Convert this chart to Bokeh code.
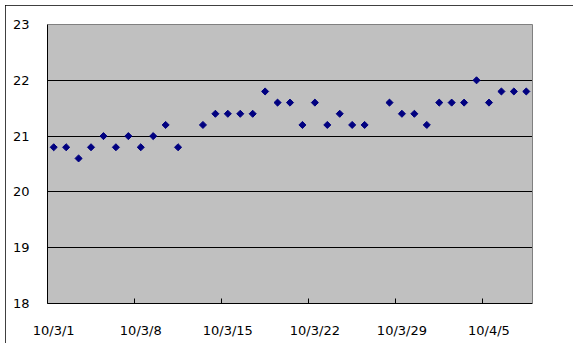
import pandas as pd
from bokeh.plotting import figure
from bokeh.models import FixedTicker, ColumnDataSource, Range1d, LinearAxis
from bokeh.embed import file_html
from bokeh.resources import INLINE

# --- data ---
dates = [
    "2010-03-01", "2010-03-02", "2010-03-03", "2010-03-04", "2010-03-05",
    "2010-03-06", "2010-03-07", "2010-03-08", "2010-03-09", "2010-03-10",
    "2010-03-11", "2010-03-13", "2010-03-14", "2010-03-15", "2010-03-16",
    "2010-03-17", "2010-03-18", "2010-03-19", "2010-03-20", "2010-03-21",
    "2010-03-22", "2010-03-23", "2010-03-24", "2010-03-25", "2010-03-26",
    "2010-03-28", "2010-03-29", "2010-03-30", "2010-03-31", "2010-04-01",
    "2010-04-02", "2010-04-03", "2010-04-04", "2010-04-05", "2010-04-06",
    "2010-04-07", "2010-04-08",
]
values = [
    20.8, 20.8, 20.6, 20.8, 21.0,
    20.8, 21.0, 20.8, 21.0, 21.2,
    20.8, 21.2, 21.4, 21.4, 21.4,
    21.4, 21.8, 21.6, 21.6, 21.2,
    21.6, 21.2, 21.4, 21.2, 21.2,
    21.6, 21.4, 21.4, 21.2, 21.6,
    21.6, 21.6, 22.0, 21.6, 21.8,
    21.8, 21.8,
]
axis_start = "2010-03-01"
axis_end = "2010-04-09"
tick_dates = ["2010-03-01", "2010-03-08", "2010-03-15", "2010-03-22", "2010-03-29", "2010-04-05"]
y_ticks = [18, 19, 20, 21, 22, 23]

# --- derived positions (days from axis start, centred in each day) ---
t0 = pd.Timestamp(axis_start)
xs = [(pd.Timestamp(d) - t0).days + 0.5 for d in dates]
x_end = (pd.Timestamp(axis_end) - t0).days
tick_pos = [(pd.Timestamp(d) - t0).days for d in tick_dates]
label_pos = [t + 0.5 for t in tick_pos]
labels = {}
for d, lp in zip(tick_dates, label_pos):
    ts = pd.Timestamp(d)
    labels[lp] = f"{ts.year % 100}/{ts.month}/{ts.day}"

src = ColumnDataSource(dict(x=xs, y=values))

p = figure(width=568, height=338, output_backend="svg", toolbar_location=None,
           x_range=Range1d(0, x_end), y_range=Range1d(min(y_ticks), max(y_ticks)),
           min_border_left=42, min_border_right=41, min_border_top=19, min_border_bottom=40)
p.margin = (5, 5, 4, 5)
p.styles = {"outline": "1px solid black", "outline-offset": "-1px"}

p.background_fill_color = "#C0C0C0"
p.border_fill_color = "white"
p.outline_line_color = None

p.scatter("x", "y", source=src, marker="square", angle=0.785398, size=5,
          fill_color="#000080", line_color="#000080")

# x axis
p.xaxis.ticker = FixedTicker(ticks=label_pos, minor_ticks=tick_pos)
p.xaxis.major_label_overrides = labels
p.xaxis.major_tick_line_color = None
p.xaxis.minor_tick_in = 5
p.xaxis.minor_tick_out = 0
p.xaxis.minor_tick_line_color = "black"
p.xaxis.axis_line_color = "black"
p.xaxis.major_label_standoff = 13
p.xaxis.major_label_text_font = "DejaVu Sans"
p.xaxis.major_label_text_font_size = "13px"
p.xaxis.major_label_text_color = "black"

# y axis
p.yaxis.ticker = FixedTicker(ticks=y_ticks)
p.yaxis.major_tick_line_color = None
p.yaxis.minor_tick_line_color = None
p.yaxis.axis_line_color = "black"
p.yaxis.major_label_standoff = 12
p.yaxis.major_label_text_font = "DejaVu Sans"
p.yaxis.major_label_text_font_size = "13px"
p.yaxis.major_label_text_color = "black"

# gray plot-area border on top and right
for side in ("above", "right"):
    ax = LinearAxis(ticker=FixedTicker(ticks=[]), axis_line_color="#808080",
                    major_tick_line_color=None, minor_tick_line_color=None,
                    major_label_text_font_size="0px", major_label_standoff=0)
    p.add_layout(ax, side)

# grids
p.xgrid.grid_line_color = None
p.ygrid.ticker = FixedTicker(ticks=y_ticks[1:-1])
p.ygrid.grid_line_color = "black"
p.ygrid.grid_line_width = 1

open("out.html", "w").write(file_html(p, INLINE))
